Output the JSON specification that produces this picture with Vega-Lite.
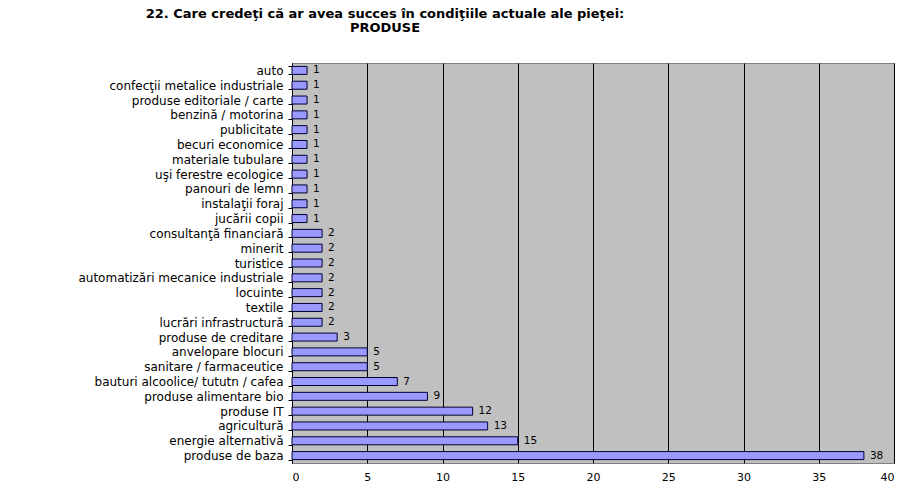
{
  "$schema": "https://vega.github.io/schema/vega-lite/v6.json",
  "autosize": "none",
  "width": 602,
  "height": 400,
  "padding": {"left": 292, "top": 63, "right": 10, "bottom": 20},
  "background": "#ffffff",
  "title": {
    "text": ["22. Care credeţi că ar avea succes în condiţiile actuale ale pieţei:", "PRODUSE"],
    "anchor": "middle",
    "dx": -208,
    "offset": 22,
    "font": "DejaVu Sans",
    "fontSize": 13,
    "fontWeight": "bold",
    "lineHeight": 14,
    "color": "#000000"
  },
  "config": {
    "view": {"fill": "#C0C0C0", "stroke": "#808080", "strokeWidth": 1},
    "font": "DejaVu Sans"
  },
  "data": {
    "values": [
      {"produs": "auto", "n": 1},
      {"produs": "confecţii metalice industriale", "n": 1},
      {"produs": "produse editoriale / carte", "n": 1},
      {"produs": "benzină / motorina", "n": 1},
      {"produs": "publicitate", "n": 1},
      {"produs": "becuri economice", "n": 1},
      {"produs": "materiale tubulare", "n": 1},
      {"produs": "uşi ferestre ecologice", "n": 1},
      {"produs": "panouri de lemn", "n": 1},
      {"produs": "instalaţii foraj", "n": 1},
      {"produs": "jucării copii", "n": 1},
      {"produs": "consultanţă financiară", "n": 2},
      {"produs": "minerit", "n": 2},
      {"produs": "turistice", "n": 2},
      {"produs": "automatizări mecanice industriale", "n": 2},
      {"produs": "locuinte", "n": 2},
      {"produs": "textile", "n": 2},
      {"produs": "lucrări infrastructură", "n": 2},
      {"produs": "produse de creditare", "n": 3},
      {"produs": "anvelopare blocuri", "n": 5},
      {"produs": "sanitare / farmaceutice", "n": 5},
      {"produs": "bauturi alcoolice/ tututn / cafea", "n": 7},
      {"produs": "produse alimentare bio", "n": 9},
      {"produs": "produse IT", "n": 12},
      {"produs": "agricultură", "n": 13},
      {"produs": "energie alternativă", "n": 15},
      {"produs": "produse de baza", "n": 38}
    ]
  },
  "encoding": {
    "y": {
      "field": "produs",
      "type": "nominal",
      "sort": null,
      "scale": {"paddingInner": 0.46, "paddingOuter": 0.23},
      "axis": {
        "title": null,
        "domain": true,
        "domainColor": "#000000",
        "tickBand": "extent",
        "tickSize": 4,
        "tickColor": "#000000",
        "labelPadding": 5,
        "labelFont": "DejaVu Sans",
        "labelFontSize": 12,
        "labelColor": "#000000",
        "labelLimit": 300
      }
    },
    "x": {
      "field": "n",
      "type": "quantitative",
      "scale": {"domain": [0, 40], "nice": false},
      "axis": {
        "title": null,
        "values": [0, 5, 10, 15, 20, 25, 30, 35, 40],
        "grid": true,
        "gridColor": "#000000",
        "gridWidth": 1,
        "gridOpacity": 1,
        "domain": false,
        "ticks": false,
        "labelPadding": 8,
        "labelFont": "DejaVu Sans",
        "labelFontSize": 11,
        "labelColor": "#000000"
      }
    }
  },
  "layer": [
    {
      "mark": {"type": "bar", "fill": "#9999FF", "stroke": "#000033", "strokeWidth": 1}
    },
    {
      "mark": {"type": "text", "align": "left", "baseline": "middle", "dx": 6, "fontSize": 10.5, "color": "#000000", "font": "DejaVu Sans"},
      "encoding": {"text": {"field": "n", "type": "quantitative"}}
    }
  ]
}
